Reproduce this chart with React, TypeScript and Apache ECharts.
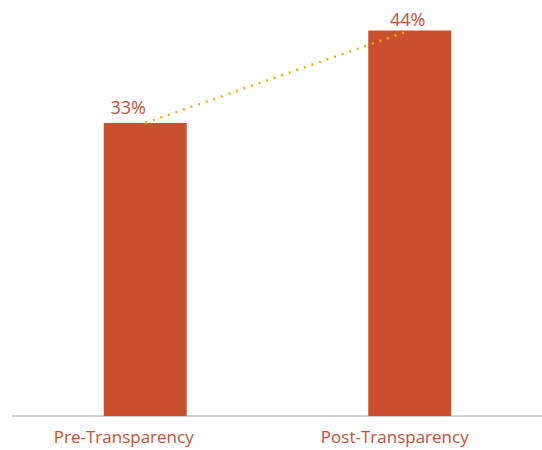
import React, { useEffect, useRef } from "react";
import * as echarts from "echarts";

const categories = ["Pre-Transparency", "Post-Transparency"];
const values = [33.3, 43.8];
const valueLabels = ["33%", "44%"];

const RED = "#C9502F";
const FONT = "Open Sans";

export default function App() {
  const ref = useRef<HTMLDivElement>(null);
  useEffect(() => {
    document.body.style.margin = "0";
    const chart = echarts.init(ref.current!, null, { renderer: "svg" });
    chart.setOption({
      animation: false,
      grid: { left: 13, right: 0, top: 20, bottom: 34 },
      xAxis: {
        type: "category",
        data: categories,
        axisLine: { lineStyle: { color: "#d0d0d0", width: 2 } },
        axisTick: { show: false },
        axisLabel: {
          margin: 10,
          formatter: (v: string, i: number) => (i === 0 ? `{a|${v}}` : `{b|${v}}`),
          rich: {
            a: { color: RED, fontSize: 17, lineHeight: 21, fontFamily: FONT, padding: [0, 43, 0, 0] },
            b: { color: RED, fontSize: 17, lineHeight: 21, fontFamily: FONT, padding: [0, 30, 0, 0] },
          },
        },
      },
      yAxis: { type: "value", min: 0, max: 45, show: false, splitLine: { show: false } },
      series: [
        {
          type: "bar",
          data: values.map((v, i) => ({
            value: v,
            label: {
              show: true,
              position: "top",
              formatter: valueLabels[i],
              offset: i === 0 ? [-17, -2] : [-2, 2],
              color: RED,
              fontSize: 18,
              fontFamily: FONT,
            },
          })),
          barWidth: 83,
          itemStyle: { color: RED },
        },
        {
          type: "line",
          data: values,
          symbol: "none",
          lineStyle: { color: "#F0B000", width: 2.5, type: [2, 6] },
          z: 5,
        },
      ],
    });
    return () => chart.dispose();
  }, []);
  return <div ref={ref} style={{ width: 542, height: 450 }} />;
}
